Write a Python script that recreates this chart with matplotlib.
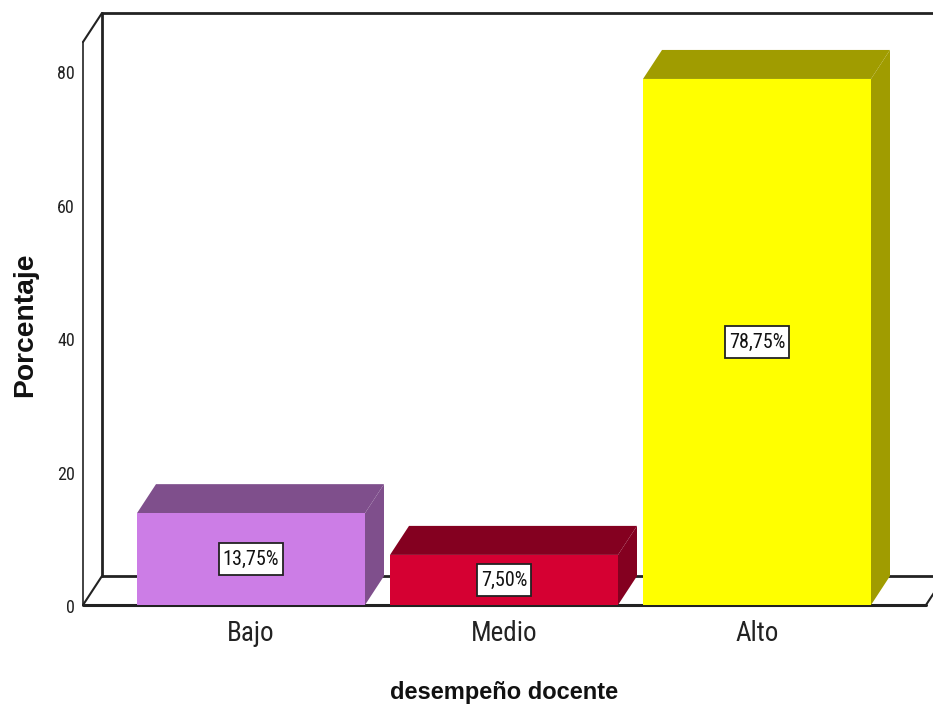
import matplotlib.pyplot as plt
from matplotlib.patches import Polygon, Rectangle

categories = ['Bajo', 'Medio', 'Alto']
percentages = [13.75, 7.50, 78.75]
value_labels = ['13,75%', '7,50%', '78,75%']
y_ticks = [0, 20, 40, 60, 80]
front_colors = ['#CC7DE6', '#D50032', '#FFFF00']
shade_colors = ['#7F4F8C', '#840020', '#A09C00']

narrow = 'Roboto Condensed'

fig = plt.figure(figsize=(9.33, 7.09), dpi=100)
ax = fig.add_axes([0, 0, 1, 1])
px_x = 253
px_y = 6.68
ax.set_xlim(-251 / px_x, (933 - 251) / px_x)
ax.set_ylim(-104 / px_y, 605 / px_y)
ax.axis('off')

# Depth of the fake 3D box, in data units
dx = 19 / px_x
dy = 29 / px_y
bar_width = 228 / px_x
left = -168 / px_x
right = 675 / px_x
top = 563 / px_y
line = dict(color='#222222', solid_capstyle='round', zorder=1)

# Back wall and floor outline
ax.plot([left + dx, left + dx], [dy, top + dy], lw=2, **line)
ax.plot([left + dx, 2.8], [top + dy, top + dy], lw=2, **line)
ax.plot([left + dx, 2.8], [dy, dy], lw=2, **line)
ax.plot([left, left], [0, top], lw=1.2, **line)
ax.plot([left, left + dx], [top, top + dy], lw=1.5, **line)
ax.plot([left, left + dx], [0, dy], lw=1.5, **line)
ax.plot([left, right], [0, 0], lw=2.2, **line)
ax.plot([right, right + dx], [0, dy], lw=1.5, **line)

renderer = fig.canvas.get_renderer()

# Bars: front face, then the top and side faces
for i, value in enumerate(percentages):
    x0 = i - bar_width / 2
    x1 = i + bar_width / 2
    ax.add_patch(Rectangle((x0, 0), bar_width, value, fc=front_colors[i], ec='none', zorder=3))
    ax.add_patch(Polygon([(x0, value), (x1, value), (x1 + dx, value + dy), (x0 + dx, value + dy)],
                         fc=shade_colors[i], ec='none', zorder=2))
    ax.add_patch(Polygon([(x1, 0), (x1 + dx, dy), (x1 + dx, value + dy), (x1, value)],
                         fc=shade_colors[i], ec='none', zorder=2))
    label = ax.text(i, value / 2, value_labels[i], ha='center', va='center', fontsize=14.5, family=narrow,
                    color='#111111', zorder=5)
    # Label box is taller than the text, so it is sized by hand
    box_w = (label.get_window_extent(renderer).width + 7) / px_x
    box_h = 32 / px_y
    ax.add_patch(Rectangle((i - box_w / 2, value / 2 - box_h / 2), box_w, box_h, fc='white',
                           ec='#222222', lw=1.3, zorder=4))
    ax.text(i, -4.3, categories[i], ha='center', va='center', fontsize=19.5, family=narrow, color='#222222')

for tick in y_ticks:
    ax.text(left - 8 / px_x, tick - 0.5, str(tick), ha='right', va='center', fontsize=13, family=narrow,
            color='#222222')

ax.text(1.0, -13.15, 'desempeño docente', ha='center', va='center', fontsize=17, family='Liberation Sans',
        fontweight='bold', color='#111111')
ax.text(-226 / px_x, 42, 'Porcentaje', rotation=90, ha='center', va='center', fontsize=20.3,
        family='Liberation Sans', fontweight='bold', color='#111111')

fig.savefig('out.png', dpi=100)
